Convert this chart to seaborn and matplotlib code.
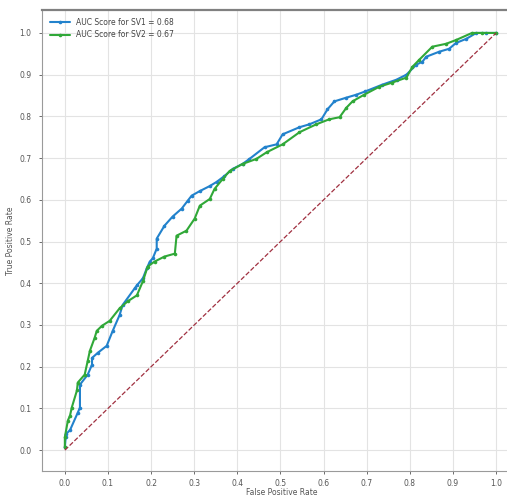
import numpy as np
import pandas as pd
import seaborn as sns
import matplotlib
matplotlib.use("Agg")
import matplotlib.pyplot as plt

# ROC points
fpr_sv1 = [0.000, 0.002, 0.002, 0.012, 0.030, 0.035, 0.035, 0.053, 0.063, 0.063, 0.076, 0.097,
           0.111, 0.127, 0.134, 0.162, 0.167, 0.181, 0.190, 0.197, 0.204, 0.213, 0.213, 0.231,
           0.250, 0.271, 0.285, 0.294, 0.313, 0.336, 0.352, 0.370, 0.389, 0.412, 0.428, 0.463,
           0.491, 0.505, 0.544, 0.567, 0.595, 0.609, 0.625, 0.653, 0.676, 0.697, 0.736, 0.769,
           0.792, 0.815, 0.829, 0.838, 0.868, 0.891, 0.907, 0.931, 0.954, 0.977, 1.000]
tpr_sv1 = [0.007, 0.031, 0.038, 0.048, 0.090, 0.102, 0.157, 0.181, 0.205, 0.221, 0.233, 0.250,
           0.286, 0.324, 0.348, 0.388, 0.395, 0.412, 0.436, 0.452, 0.460, 0.483, 0.507, 0.538,
           0.560, 0.579, 0.598, 0.610, 0.621, 0.633, 0.643, 0.657, 0.674, 0.686, 0.698, 0.726,
           0.733, 0.757, 0.774, 0.781, 0.793, 0.817, 0.836, 0.845, 0.852, 0.860, 0.876, 0.888,
           0.900, 0.924, 0.931, 0.943, 0.955, 0.962, 0.976, 0.986, 1.000, 1.000, 1.000]

fpr_sv2 = [0.000, 0.000, 0.007, 0.012, 0.016, 0.028, 0.030, 0.046, 0.053, 0.058, 0.069, 0.074,
           0.086, 0.104, 0.127, 0.146, 0.167, 0.181, 0.192, 0.208, 0.231, 0.255, 0.259, 0.282,
           0.301, 0.313, 0.336, 0.347, 0.366, 0.382, 0.412, 0.444, 0.468, 0.505, 0.544, 0.583,
           0.613, 0.637, 0.653, 0.667, 0.694, 0.729, 0.759, 0.792, 0.806, 0.822, 0.852, 0.884,
           0.907, 0.944, 0.968, 1.000]
tpr_sv2 = [0.007, 0.031, 0.071, 0.083, 0.102, 0.143, 0.162, 0.181, 0.214, 0.238, 0.269, 0.286,
           0.298, 0.310, 0.340, 0.357, 0.371, 0.405, 0.440, 0.452, 0.464, 0.471, 0.514, 0.526,
           0.555, 0.586, 0.602, 0.626, 0.650, 0.669, 0.686, 0.698, 0.714, 0.733, 0.762, 0.781,
           0.793, 0.798, 0.821, 0.836, 0.852, 0.871, 0.881, 0.893, 0.919, 0.936, 0.967, 0.974,
           0.983, 1.000, 1.000, 1.000]

auc_sv1 = 0.68
auc_sv2 = 0.67
chance = [0, 1]

sns.set_style("whitegrid", {"xtick.bottom": True, "ytick.left": True,
                            "grid.color": "#e3e3e3", "axes.edgecolor": "#9a9a9a"})

fig = plt.figure(figsize=(5.07, 4.98), dpi=100)
ax = fig.add_axes([42 / 507, 27 / 498, 480 / 507, 461 / 498])

sns.lineplot(x=fpr_sv1, y=tpr_sv1, sort=False, estimator=None, ax=ax, color="#2282cc",
             marker="o", markersize=2.6, markeredgewidth=0, linewidth=1.5,
             label="AUC Score for SV1 = %.2f" % auc_sv1)
sns.lineplot(x=fpr_sv2, y=tpr_sv2, sort=False, estimator=None, ax=ax, color="#30a838",
             marker="o", markersize=2.6, markeredgewidth=0, linewidth=1.5,
             label="AUC Score for SV2 = %.2f" % auc_sv2)
ax.plot(chance, chance, linestyle="--", color="#a03040", linewidth=0.9)

ax.set_xlim(-0.053, 1.06)
ax.set_ylim(-0.05, 1.055)
ax.set_xticks(np.arange(0, 1.01, 0.1))
ax.set_yticks(np.arange(0, 1.01, 0.1))
ax.tick_params(labelsize=5.5, length=2.5, width=0.6, colors="#555555")
ax.tick_params(axis="x", pad=3)
ax.tick_params(axis="y", pad=5)
ax.set_xlabel("False Positive Rate", fontsize=5.5, color="#555555", labelpad=0)
ax.set_ylabel("True Positive Rate", fontsize=5.5, color="#555555", labelpad=3)
ax.spines["top"].set_linewidth(1.6)
ax.spines["top"].set_color("#808080")

leg = ax.legend(loc="upper left", fontsize=5.5, frameon=False, handlelength=2.6,
                borderaxespad=0.6)
for t in leg.get_texts():
    t.set_color("#444444")

fig.savefig("out.png", dpi=100)
